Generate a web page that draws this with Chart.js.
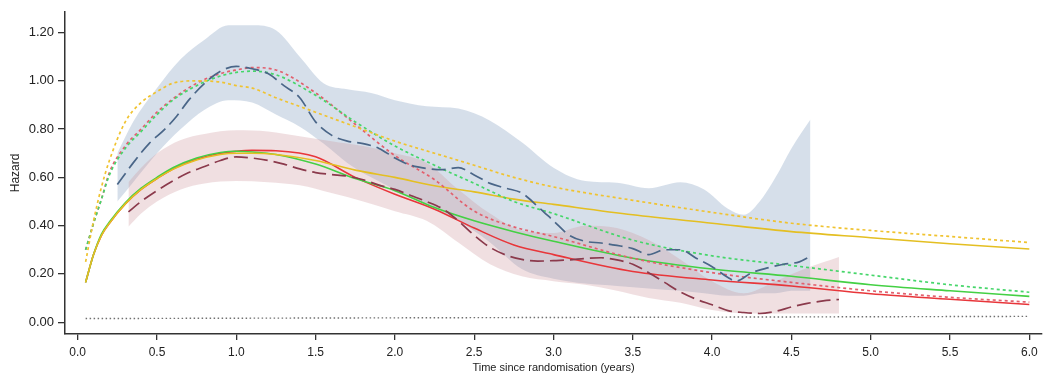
<!DOCTYPE html>
<html>
<head>
<meta charset="utf-8">
<script src="https://cdn.jsdelivr.net/npm/chart.js@4.4.0/dist/chart.umd.min.js"></script>
<style>
body { margin: 0; background: #fff; }
#wrap { width: 1046px; height: 379px; }
</style>
</head>
<body>
<div id="wrap"><canvas id="hazardChart"></canvas></div>
<script>
// tick values
const xTicks = [0, 0.5, 1, 1.5, 2, 2.5, 3, 3.5, 4, 4.5, 5, 5.5, 6];
const yTicks = [0, 0.2, 0.4, 0.6, 0.8, 1.0, 1.2];

// fitted model curves
const modelX = [0.05, 0.1, 0.15, 0.2, 0.3, 0.4, 0.5, 0.6, 0.75, 0.9, 1.0, 1.1, 1.25, 1.5, 1.75, 2.0, 2.25, 2.5, 2.75, 3.0, 3.5, 4.0, 4.5, 5.0, 5.5, 6.0];
const redDotted    = [0.30, 0.41, 0.51, 0.62, 0.73, 0.80, 0.87, 0.925, 0.99, 1.03, 1.045, 1.055, 1.045, 0.95, 0.82, 0.69, 0.59, 0.46, 0.395, 0.355, 0.265, 0.205, 0.165, 0.13, 0.103, 0.083];
const greenDotted  = [0.30, 0.41, 0.51, 0.61, 0.72, 0.79, 0.86, 0.92, 0.98, 1.02, 1.035, 1.04, 1.025, 0.94, 0.83, 0.73, 0.65, 0.575, 0.50, 0.45, 0.34, 0.275, 0.235, 0.195, 0.155, 0.124];
const yellowDotted = [0.25, 0.42, 0.56, 0.67, 0.83, 0.91, 0.955, 0.99, 1.0, 0.995, 0.98, 0.97, 0.93, 0.87, 0.81, 0.75, 0.70, 0.65, 0.60, 0.56, 0.505, 0.455, 0.41, 0.38, 0.355, 0.33];
const redSolid     = [0.165, 0.28, 0.36, 0.41, 0.49, 0.55, 0.595, 0.635, 0.675, 0.70, 0.708, 0.712, 0.71, 0.685, 0.60, 0.53, 0.468, 0.39, 0.32, 0.28, 0.21, 0.175, 0.15, 0.118, 0.095, 0.073];
const greenSolid   = [0.165, 0.28, 0.365, 0.415, 0.495, 0.555, 0.60, 0.64, 0.68, 0.703, 0.708, 0.705, 0.695, 0.655, 0.595, 0.545, 0.475, 0.42, 0.375, 0.335, 0.265, 0.22, 0.19, 0.155, 0.13, 0.107];
const yellowSolid  = [0.165, 0.28, 0.36, 0.41, 0.49, 0.55, 0.595, 0.633, 0.672, 0.695, 0.70, 0.70, 0.695, 0.67, 0.63, 0.60, 0.565, 0.54, 0.51, 0.488, 0.445, 0.41, 0.375, 0.35, 0.325, 0.303];

// observed hazard, group A (blue)
const obsAX = [0.25, 0.35, 0.45, 0.55, 0.62, 0.7, 0.8, 0.9, 1.0, 1.1, 1.2, 1.3, 1.4, 1.5, 1.6, 1.7, 1.8, 1.9, 2.0, 2.1, 2.2, 2.3, 2.4, 2.5, 2.6, 2.7, 2.8, 2.9, 3.0, 3.1, 3.2, 3.3, 3.4, 3.5, 3.6, 3.7, 3.8, 3.9, 4.0, 4.1, 4.15, 4.25, 4.35, 4.45, 4.55, 4.62];
const obsA  = [0.57, 0.66, 0.74, 0.80, 0.85, 0.92, 0.99, 1.04, 1.06, 1.05, 1.03, 0.98, 0.93, 0.83, 0.775, 0.75, 0.74, 0.72, 0.68, 0.65, 0.637, 0.632, 0.64, 0.61, 0.575, 0.555, 0.535, 0.48, 0.42, 0.36, 0.335, 0.328, 0.318, 0.305, 0.28, 0.30, 0.30, 0.265, 0.23, 0.185, 0.17, 0.205, 0.225, 0.24, 0.25, 0.273];
const bandAX = [0.25, 0.35, 0.5, 0.65, 0.8, 0.95, 1.1, 1.25, 1.4, 1.55, 1.7, 1.85, 2.0, 2.2, 2.4, 2.6, 2.8, 3.0, 3.2, 3.4, 3.6, 3.8, 3.95, 4.1, 4.2, 4.3, 4.4, 4.5, 4.62];
const bandAHigh = [0.70, 0.83, 0.97, 1.09, 1.17, 1.23, 1.23, 1.21, 1.10, 0.99, 0.965, 0.95, 0.92, 0.895, 0.885, 0.835, 0.745, 0.64, 0.585, 0.578, 0.555, 0.58, 0.55, 0.47, 0.445, 0.50, 0.60, 0.72, 0.84];
const bandALow  = [0.50, 0.58, 0.70, 0.80, 0.88, 0.92, 0.91, 0.86, 0.81, 0.74, 0.66, 0.60, 0.55, 0.49, 0.42, 0.33, 0.22, 0.18, 0.16, 0.15, 0.14, 0.13, 0.12, 0.11, 0.11, 0.12, 0.12, 0.13, 0.13];

// observed hazard, group B (maroon)
const obsBX = [0.32, 0.4, 0.5, 0.6, 0.7, 0.8, 0.9, 1.0, 1.1, 1.2, 1.3, 1.4, 1.5, 1.6, 1.7, 1.8, 1.9, 2.0, 2.1, 2.2, 2.3, 2.4, 2.5, 2.6, 2.7, 2.8, 2.9, 3.0, 3.1, 3.2, 3.3, 3.4, 3.5, 3.6, 3.7, 3.8, 3.9, 4.0, 4.1, 4.2, 4.3, 4.4, 4.5, 4.6, 4.7, 4.8];
const obsB  = [0.457, 0.50, 0.545, 0.585, 0.62, 0.645, 0.67, 0.685, 0.68, 0.67, 0.655, 0.635, 0.62, 0.612, 0.605, 0.59, 0.568, 0.55, 0.525, 0.50, 0.47, 0.42, 0.36, 0.31, 0.278, 0.26, 0.253, 0.255, 0.258, 0.264, 0.267, 0.258, 0.24, 0.205, 0.165, 0.125, 0.095, 0.072, 0.048, 0.04, 0.036, 0.045, 0.063, 0.078, 0.088, 0.094];
const bandBX = [0.32, 0.4, 0.5, 0.65, 0.8, 1.0, 1.2, 1.4, 1.6, 1.8, 2.0, 2.2, 2.4, 2.6, 2.8, 3.0, 3.2, 3.4, 3.6, 3.8, 4.0, 4.2, 4.4, 4.6, 4.8];
const bandBHigh = [0.58, 0.64, 0.70, 0.755, 0.78, 0.795, 0.79, 0.77, 0.75, 0.73, 0.70, 0.66, 0.55, 0.45, 0.38, 0.37, 0.40, 0.39, 0.34, 0.26, 0.17, 0.12, 0.17, 0.225, 0.27];
const bandBLow  = [0.395, 0.45, 0.50, 0.55, 0.575, 0.585, 0.58, 0.567, 0.535, 0.50, 0.46, 0.42, 0.33, 0.24, 0.19, 0.17, 0.155, 0.13, 0.10, 0.08, 0.05, 0.036, 0.036, 0.036, 0.036];

// reference line near zero
const baseX = [0.05, 6.0];
const baseY = [0.015, 0.024];

function pts(xs, ys) {
    return xs.map((x, i) => ({ x: x, y: ys[i] }));
}

function curve(xs, ys, color, dash, width) {
    return {
        data: pts(xs, ys),
        borderColor: color,
        borderWidth: width || 1.6,
        borderDash: dash || [],
        pointRadius: 0,
        fill: false,
        cubicInterpolationMode: 'monotone'
    };
}

function bandEdge(xs, ys, fillColor, isLow) {
    return {
        data: pts(xs, ys),
        borderWidth: 0,
        borderColor: 'rgba(0,0,0,0)',
        backgroundColor: fillColor,
        pointRadius: 0,
        fill: isLow ? '-1' : false,
        cubicInterpolationMode: 'monotone'
    };
}

const fontFamily = "'Liberation Sans', Arial, sans-serif";

const ctx = document.getElementById('hazardChart').getContext('2d');
new Chart(ctx, {
    type: 'line',
    data: {
        datasets: [
            curve(baseX, baseY, '#707070', [1.5, 2.5], 1.4),
            curve(obsAX, obsA, '#4a6688', [14, 6], 1.7),
            curve(obsBX, obsB, '#8b3a4c', [14, 6], 1.7),
            curve(modelX, yellowDotted, '#f0c330', [3, 3], 1.7),
            curve(modelX, greenDotted, '#46d66a', [3, 3], 1.7),
            curve(modelX, redDotted, '#e2606e', [3, 3], 1.7),
            curve(modelX, yellowSolid, '#e4bf22', [], 1.6),
            curve(modelX, greenSolid, '#44d044', [], 1.6),
            curve(modelX, redSolid, '#e8363a', [], 1.6),
            bandEdge(bandBX, bandBHigh, 'rgba(205,150,155,0.3)', false),
            bandEdge(bandBX, bandBLow, 'rgba(205,150,155,0.3)', true),
            bandEdge(bandAX, bandAHigh, 'rgba(165,183,208,0.45)', false),
            bandEdge(bandAX, bandALow, 'rgba(165,183,208,0.45)', true)
        ]
    },
    options: {
        responsive: true,
        maintainAspectRatio: false,
        animation: false,
        layout: { padding: { top: 7, right: 4, left: 0, bottom: 0 } },
        plugins: {
            legend: { display: false },
            tooltip: { enabled: false }
        },
        scales: {
            x: {
                type: 'linear',
                min: -0.08,
                max: 6.08,
                afterFit: function (scale) { scale.height = 45; },
                afterBuildTicks: function (scale) { scale.ticks = xTicks.map(v => ({ value: v })); },
                grid: { drawOnChartArea: false, drawTicks: true, tickLength: 6, color: '#333', lineWidth: 1.3 },
                border: { display: true, color: '#333', width: 1.5 },
                ticks: {
                    color: '#222',
                    font: { family: fontFamily, size: 12 },
                    padding: 5,
                    maxRotation: 0,
                    autoSkip: false,
                    callback: v => v.toFixed(1)
                },
                title: {
                    display: true,
                    text: 'Time since randomisation (years)',
                    color: '#222',
                    font: { family: fontFamily, size: 11 },
                    padding: { top: 0, bottom: 4 }
                }
            },
            y: {
                type: 'linear',
                min: -0.049,
                max: 1.286,
                afterFit: function (scale) { scale.width = 65; },
                afterBuildTicks: function (scale) { scale.ticks = yTicks.map(v => ({ value: v })); },
                grid: { drawOnChartArea: false, drawTicks: true, tickLength: 7, color: '#333', lineWidth: 1.3 },
                border: { display: true, color: '#333', width: 1.5 },
                ticks: {
                    color: '#222',
                    font: { family: fontFamily, size: 13 },
                    padding: 4,
                    callback: v => v.toFixed(2)
                },
                title: {
                    display: true,
                    text: 'Hazard',
                    color: '#222',
                    font: { family: fontFamily, size: 12 },
                    padding: { top: 8, bottom: 0 }
                }
            }
        }
    }
});
</script>
</body>
</html>
